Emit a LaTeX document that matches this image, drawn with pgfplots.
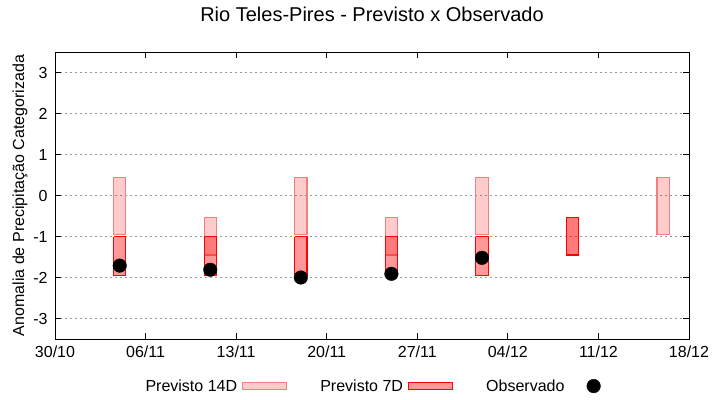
\documentclass[border=0pt]{standalone}
\usepackage{pgfplots}
\pgfplotsset{compat=1.18}
\usepackage{pgfplotstable}
\usepackage{fontspec}
\setmainfont{Liberation Sans}
\definecolor{edgefourteen}{HTML}{F08080}
\pgfplotsset{barlegend/.style={legend image code/.code={\draw[##1] (0bp,-3.5bp) rectangle (44bp,3.5bp);}},
  obslegend/.style={legend image code/.code={\path (0bp,0bp); \draw[##1] plot coordinates {(24bp,0bp)};}}}

% 14-day forecast ranges (bar outlines; nan separates bars)
\pgfplotstableread{
x y
4.525 0.44
5.475 0.44
5.475 -0.96
4.525 -0.96
4.525 0.44
nan nan
11.525 -0.53
12.475 -0.53
12.475 -1.45
11.525 -1.45
11.525 -0.53
nan nan
18.525 0.44
19.475 0.44
19.475 -0.96
18.525 -0.96
18.525 0.44
nan nan
25.525 -0.53
26.475 -0.53
26.475 -1.45
25.525 -1.45
25.525 -0.53
nan nan
32.525 0.44
33.475 0.44
33.475 -0.96
32.525 -0.96
32.525 0.44
nan nan
39.525 -0.53
40.475 -0.53
40.475 -1.45
39.525 -1.45
39.525 -0.53
nan nan
46.525 0.44
47.475 0.44
47.475 -0.96
46.525 -0.96
46.525 0.44
}\fourteen

% 7-day forecast ranges
\pgfplotstableread{
x y
4.525 -1.0
5.475 -1.0
5.475 -1.96
4.525 -1.96
4.525 -1.0
nan nan
11.525 -1.0
12.475 -1.0
12.475 -1.96
11.525 -1.96
11.525 -1.0
nan nan
18.525 -1.0
19.475 -1.0
19.475 -1.96
18.525 -1.96
18.525 -1.0
nan nan
25.525 -1.0
26.475 -1.0
26.475 -1.96
25.525 -1.96
25.525 -1.0
nan nan
32.525 -1.0
33.475 -1.0
33.475 -1.96
32.525 -1.96
32.525 -1.0
nan nan
39.525 -0.53
40.475 -0.53
40.475 -1.45
39.525 -1.45
39.525 -0.53
}\seven

% Observed
\pgfplotstableread{
x y
5 -1.71
12 -1.81
19 -2.0
26 -1.91
33 -1.52
}\observed

\begin{document}
\begin{tikzpicture}
\useasboundingbox (-55bp,-61bp) rectangle (665bp,339bp);
\begin{axis}[
  at={(0,0)}, anchor=south west,
  scale only axis, width=634bp, height=287bp,
  xmin=0, xmax=49, ymin=-3.5, ymax=3.5,
  xtick={0,7,14,21,28,35,42,49},
  xticklabels={30/10,06/11,13/11,20/11,27/11,04/12,11/12,18/12},
  ytick={-3,-2,-1,0,1,2,3},
  /pgf/number format/assume math mode=true,
  tick label style={font=\fontsize{16bp}{19bp}\selectfont, black},
  xticklabel style={yshift=-3bp},
  yticklabel style={xshift=-4bp},
  tick align=inside, major tick length=6bp,
  tick style={black, line width=0.8bp},
  ymajorgrids,
  grid style={gray!80, dash pattern=on 2bp off 3bp, line width=0.8bp},
  axis line style={black, line width=0.9bp},
  title={Rio Teles-Pires - Previsto x Observado},
  title style={font=\fontsize{20bp}{24bp}\selectfont, at={(0.5,1)}, anchor=base, yshift=25bp},
  ylabel={Anomalia de Precipitação Categorizada},
  every axis y label/.style={at={(axis description cs:-0.0552,0.5)}, rotate=90, anchor=center, font=\fontsize{16bp}{19bp}\selectfont},
  unbounded coords=jump,
  legend columns=3,
  legend plot pos=right,
  legend style={draw=none, fill=none, at={(0.5,-0.164)}, anchor=center,
    font=\fontsize{16bp}{19bp}\selectfont,
    /tikz/every odd column/.append style={column sep=3bp},
    /tikz/every even column/.append style={column sep=31bp}},
]
\addplot[draw=edgefourteen, fill=red, fill opacity=0.2, line width=1.2bp, barlegend]
  table[x=x,y=y] {\fourteen};
\addlegendentry{Previsto 14D}
\addplot[draw=red, fill=red, fill opacity=0.4, line width=1.2bp, barlegend]
  table[x=x,y=y] {\seven};
\addlegendentry{Previsto 7D}
\addplot[only marks, mark=*, mark size=6.8bp, draw=black, fill=black, obslegend]
  table[x=x,y=y] {\observed};
\addlegendentry{Observado}
\end{axis}
\end{tikzpicture}
\end{document}
